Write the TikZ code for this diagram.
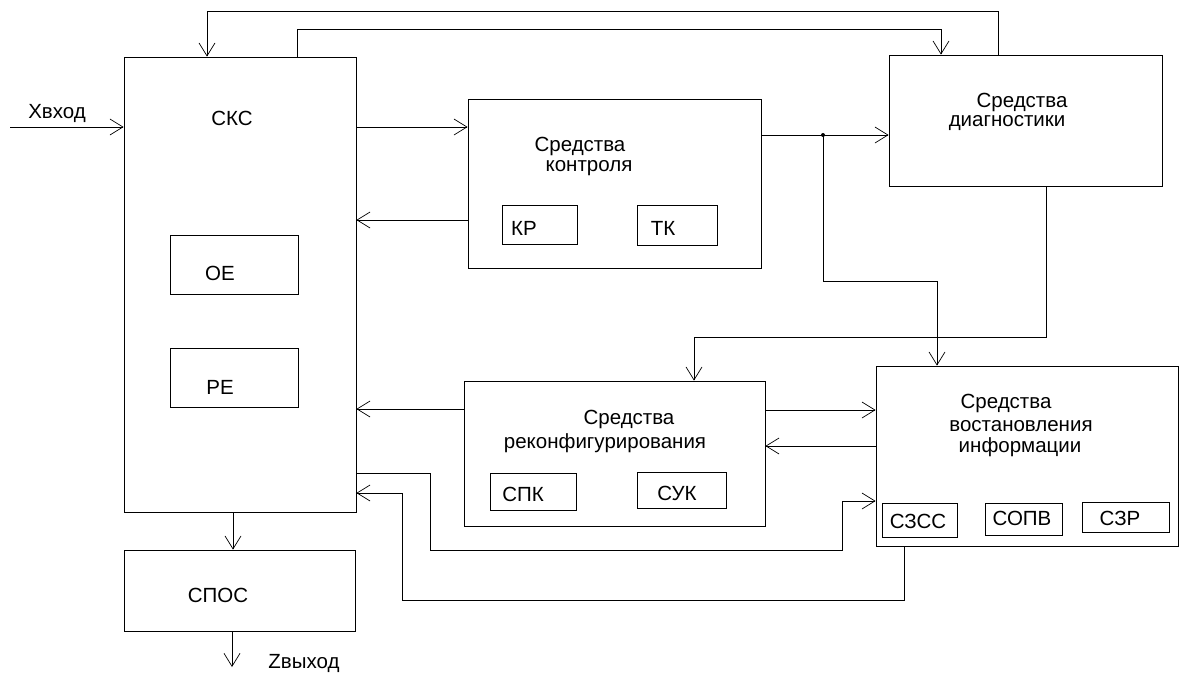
\documentclass[tikz,border=0pt]{standalone}
\usepackage{fontspec}
\setmainfont{Liberation Sans}
\usetikzlibrary{arrows.meta}
\begin{document}
\begin{tikzpicture}[x=1pt,y=-1pt,
  box/.style={draw,line width=0.8pt,inner sep=0pt,minimum width=#1},
  lbl/.style={inner sep=0pt,font=\fontsize{20.5}{24}\selectfont},
  wire/.style={line width=0.8pt},
  arr/.style={line width=0.8pt,-{Straight Barb[length=13pt,width=16pt,line width=0.7pt]}}
]
\useasboundingbox (0,0) rectangle (1182,673);
% boxes
\node[box=232pt,minimum height=455pt] (sks) at (240,284.5) {};
\node[box=128pt,minimum height=59pt] (oe) at (234,264.5) {};
\node[box=128pt,minimum height=59pt] (pe) at (234,377.5) {};
\node[box=293pt,minimum height=169pt] (ctl) at (614.5,183.5) {};
\node[box=75pt,minimum height=39pt] (kp) at (539.5,224.5) {};
\node[box=80pt,minimum height=40pt] (tk) at (677,225) {};
\node[box=273pt,minimum height=131pt] (diag) at (1025.5,120.5) {};
\node[box=301pt,minimum height=145pt] (rec) at (614.5,453.5) {};
\node[box=86pt,minimum height=37pt] (spk) at (533,491.5) {};
\node[box=89pt,minimum height=36pt] (suk) at (681.5,490) {};
\node[box=302pt,minimum height=180pt] (vost) at (1027,456) {};
\node[box=75pt,minimum height=34pt] (szss) at (919.5,520) {};
\node[box=77pt,minimum height=32pt] (sopv) at (1023.5,519) {};
\node[box=87pt,minimum height=30pt] (szr) at (1125.5,517) {};
\node[box=231pt,minimum height=81pt] (spos) at (239.5,590.5) {};
% labels
\node[lbl] (tx) at (57,113) {Хвход};
\node[lbl] (tsks) at (232,118) {СКС};
\node[lbl] (toe) at (220,273) {ОЕ};
\node[lbl] (tpe) at (220,387) {РЕ};
\node[lbl] (tctl1) at (580,146) {Средства};
\node[lbl] (tctl2) at (589,168) {контроля};
\node[lbl] (tkp) at (524,228) {КР};
\node[lbl] (ttk) at (663,228) {ТК};
\node[lbl] (tdg1) at (1022,102) {Средства};
\node[lbl] (tdg2) at (1007,123) {диагностики};
\node[lbl] (trc1) at (629,419) {Средства};
\node[lbl] (trc2) at (605,443) {реконфигурирования};
\node[lbl] (tspk) at (523,494) {СПК};
\node[lbl] (tsuk) at (677,493) {СУК};
\node[lbl] (tvs1) at (1006,403) {Средства};
\node[lbl] (tvs2) at (1021,426) {востановления};
\node[lbl] (tvs3) at (1020,447) {информации};
\node[lbl] (tszss) at (918,521) {СЗСС};
\node[lbl] (tsopv) at (1022,518) {СОПВ};
\node[lbl] (tszr) at (1120,518) {СЗР};
\node[lbl] (tspos) at (218,595) {СПОС};
\node[lbl] (tz) at (304,663) {Zвыход};
% free ends and junction
\coordinate (xin) at (10,127);
\coordinate (zout) at (232,667);
\coordinate (jn) at (823,135);
% connectors
\draw[arr] (xin) -- (sks.west |- xin);
\draw[arr] (diag.north -| 998,0) -- (998,11) -- (207,11) -- (sks.north -| 207,0);
\draw[arr] (sks.north -| 297,0) -- (297,29) -- (941,29) -- (diag.north -| 941,0);
\draw[arr] (sks.east |- 0,127) -- (ctl.west |- 0,127);
\draw[arr] (ctl.west |- 0,220) -- (sks.east |- 0,220);
\draw[arr] (ctl.east |- jn) -- (diag.west |- jn);
\fill (jn) circle (2pt);
\draw[arr] (jn) -- (823,281) -- (937,281) -- (vost.north -| 937,0);
\draw[arr] (diag.south -| 1046,0) -- (1046,337) -- (694,337) -- (rec.north -| 694,0);
\draw[arr] (rec.west |- 0,409) -- (sks.east |- 0,409);
\draw[arr] (rec.east |- 0,410) -- (vost.west |- 0,410);
\draw[arr] (vost.west |- 0,446) -- (rec.east |- 0,446);
\draw[arr] (sks.east |- 0,473) -- (430,473) -- (430,550) -- (842,550) -- (842,501) -- (vost.west |- 0,501);
\draw[arr] (vost.south -| 904,0) -- (904,600) -- (402,600) -- (402,493) -- (sks.east |- 0,493);
\draw[arr] (sks.south -| 233,0) -- (spos.north -| 233,0);
\draw[arr] (spos.south -| 232,0) -- (zout);
\end{tikzpicture}
\end{document}
